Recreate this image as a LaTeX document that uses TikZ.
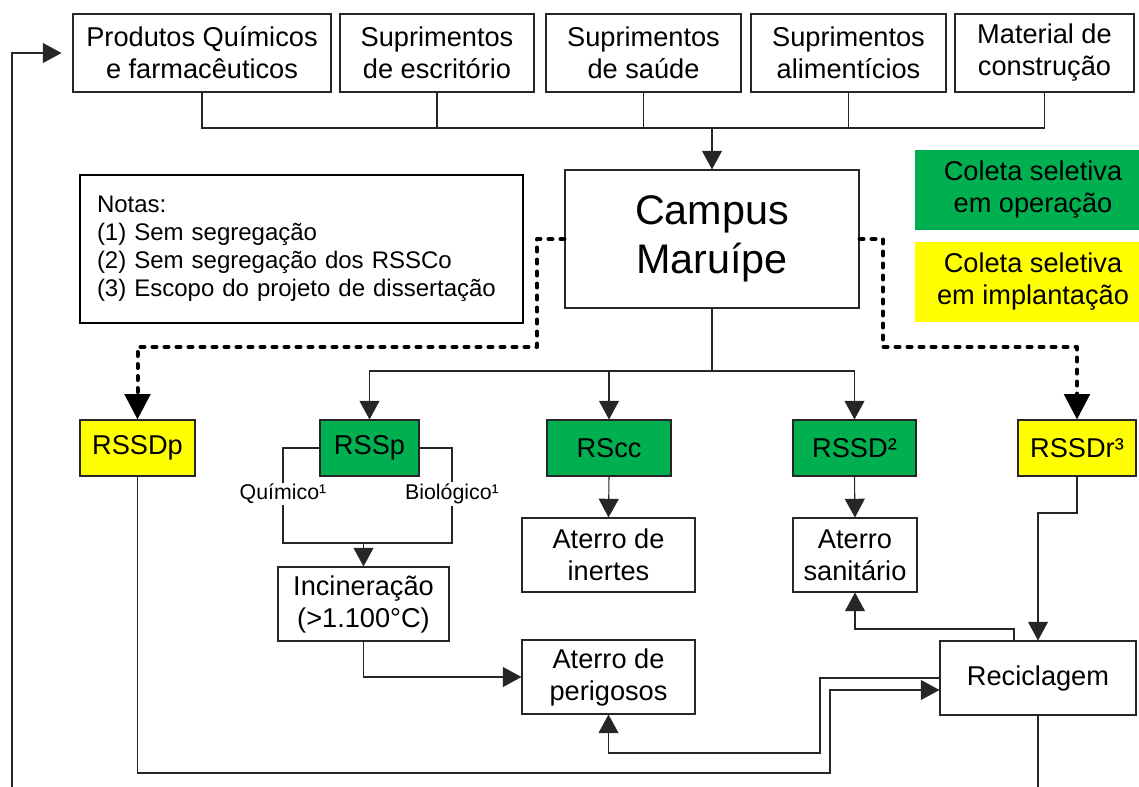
\documentclass[tikz,border=0pt]{standalone}
\usepackage{fontspec}
\setmainfont{Liberation Sans}
\usetikzlibrary{arrows.meta}
\definecolor{myGreen}{HTML}{00B050}
\definecolor{myYellow}{HTML}{FFFF00}
\tikzset{
 sz/.style 2 args={minimum width=#1*0.75pt, minimum height=#2*0.75pt},
 bx/.style={draw=black!85, line width=0.8pt, inner sep=0pt, align=center, font=\fontsize{20.4}{24}\selectfont},
 gbx/.style={bx, fill=myGreen},
 ybx/.style={bx, fill=myYellow},
 conn/.style={draw=black!85, line width=0.8pt},
 arr/.style={conn, -{Triangle[length=14pt,width=15pt]}},
 dsh/.style={draw=black, line width=3pt, dash pattern=on 3pt off 6pt, line cap=round, line join=round, -{Triangle[length=19pt,width=19pt]}},
 lbl/.style={inner sep=1pt, font=\fontsize{16}{19}\selectfont},
 leg/.style={inner sep=0pt, align=center, font=\fontsize{20.4}{24}\selectfont},
}
\begin{document}
\begin{tikzpicture}[x=0.75pt,y=-0.75pt]
\useasboundingbox (0,0) rectangle (1139,787);

% top boxes
\node[bx, sz={258}{78}] (b1) at (202,53) {Produtos Químicos\\e farmacêuticos};
\node[bx, sz={194}{78}] (b2) at (437,53) {Suprimentos\\de escritório};
\node[bx, sz={195}{78}] (b3) at (643.5,53) {Suprimentos\\de saúde};
\node[bx, sz={195}{78}] (b4) at (848.5,53) {Suprimentos\\alimentícios};
\node[bx, sz={179}{78}] (b5) at (1044.5,53) {Material de\\construção};

% campus
\node[bx, sz={294}{138}, font=\fontsize{31}{36.75}\selectfont] (campus) at (712,239) {Campus\\Maruípe};

% notes
\node[bx, draw=black, line width=1.6pt, sz={443}{148}, align=left, text width=306.75pt, font=\fontsize{18}{21}\selectfont] (notes) at (301.5,249)
 {Notas:\\(1) Sem segregação\\(2) Sem segregação dos RSSCo\\(3) Escopo do projeto de dissertação};

% legend
\node[leg, fill=myGreen, sz={236}{80}] (lg1) at (1033,190) {Coleta seletiva\\em operação};
\node[leg, fill=myYellow, sz={236}{80}] (lg2) at (1033,282) {Coleta seletiva\\em implantação};

% level 2
\node[ybx, sz={115}{56}] (rssdp) at (137.5,448) {RSSDp};
\node[gbx, sz={99}{56}] (rssp) at (369.5,448) {RSSp};
\node[gbx, sz={124}{56}] (rscc) at (609,448) {RScc};
\node[gbx, sz={123}{56}] (rssd) at (854.5,448) {RSSD²};
\node[ybx, sz={118}{56}] (rssdr) at (1077,448) {RSSDr³};

% level 3
\node[bx, sz={171}{74}] (inc) at (363.5,604) {Incineração\\(>1.100°C)};
\node[bx, sz={173}{74}] (ain) at (608.5,555) {Aterro de\\inertes};
\node[bx, sz={124}{74}] (asan) at (855,555) {Aterro\\sanitário};
\node[bx, sz={173}{74}] (aper) at (608.5,677) {Aterro de\\perigosos};
\node[bx, sz={196}{74}] (rec) at (1038,678) {Reciclagem};

% labels
\node[lbl] (qui) at (283,494) {Químico¹};
\node[lbl] (bio) at (452,494) {Biológico¹};

% top bus
\coordinate (bus) at (712,128);
\draw[conn] (b1.south) |- (bus);
\draw[conn] (b2.south) |- (bus);
\draw[conn] (b3.south) |- (bus);
\draw[conn] (b4.south) |- (bus);
\draw[conn] (b5.south) |- (bus);
\draw[arr] (bus) -- (campus.north);

% campus branches
\coordinate (br) at (712,371);
\draw[conn] (campus.south) -- (br);
\draw[arr] (br) -| (rssp.north);
\draw[arr] (br) -| (rscc.north);
\draw[arr] (br) -| (rssd.north);

% dashed
\coordinate (dl) at (537,347);
\coordinate (dr) at (883,347);
\draw[dsh] (campus.west) -| (dl) -| (rssdp.north);
\draw[dsh] (campus.east) -| (dr) -| (rssdr.north);

% RSSp branches
\coordinate (jn) at (363.5,543);
\draw[conn] (rssp.west) -| (qui.north);
\draw[conn] (qui.south) |- (jn);
\draw[conn] (rssp.east) -| (bio.north);
\draw[conn] (bio.south) |- (jn);
\draw[arr] (jn) -- (inc.north);
\draw[arr] (inc.south) |- (aper.west);

\draw[arr] (rscc.south) -- (ain.north);
\draw[arr] (rssd.south) -- (asan.north);

% reciclagem connections
\coordinate (ra) at (1014,629);
\draw[arr] (rec.north -| ra) -- (ra) -| (asan.south);
\coordinate (rb) at (1038,513);
\draw[arr] (rssdr.south) |- (rb) -- (rec.north);
\coordinate (c1) at (820,753);
\draw[arr] (rec.west) -| (c1) -| (aper.south);
\coordinate (c2) at (830,773);
\draw[arr] (rssdp.south) |- (c2) |- ([yshift=-9pt]rec.west);

% open ends
\coordinate (rb0) at (1038,787);
\draw[conn] (rec.south) -- (rb0);
\coordinate (fb0) at (12,787);
\draw[arr] (fb0) |- ([xshift=-8.25pt]b1.west);
\end{tikzpicture}
\end{document}
